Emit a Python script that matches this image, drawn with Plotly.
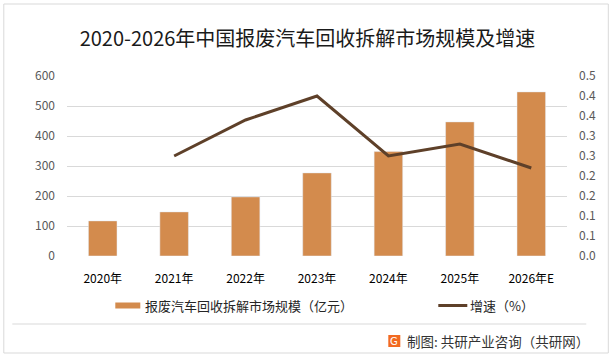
import plotly.graph_objects as go

years = ["2020年", "2021年", "2022年", "2023年", "2024年", "2025年", "2026年E"]
market_size = [117, 147, 197, 277, 348, 447, 547]
growth_years = ["2021年", "2022年", "2023年", "2024年", "2025年", "2026年E"]
growth = [0.25, 0.34, 0.40, 0.25, 0.28, 0.22]

left_ticks = [0, 100, 200, 300, 400, 500, 600]
right_ticks = [0, 0.05, 0.10, 0.15, 0.20, 0.25, 0.30, 0.35, 0.40, 0.45]
right_labels = ["0.0", "0.1", "0.1", "0.2", "0.2", "0.3", "0.3", "0.4", "0.4", "0.5"]

bar_name = "报废汽车回收拆解市场规模（亿元）"
line_name = "增速（%）"
title = "2020-2026年中国报废汽车回收拆解市场规模及增速"
source = "制图: 共研产业咨询（共研网）"

BAR_C = "#D38B4D"
LINE_C = "#5E4029"
FONT = "Noto Sans CJK SC"

W, H = 615, 357
L, R, T, B = 66.7, 566.7, 76, 256


def px(x):
    return (x - L) / (R - L)


def py(y):
    return (B - y) / (B - T)


fig = go.Figure()
fig.add_trace(go.Bar(x=years, y=market_size, name=bar_name, marker_color=BAR_C,
                     width=0.4, yaxis="y", showlegend=False))
fig.add_trace(go.Scatter(x=growth_years, y=growth, name=line_name, mode="lines",
                         line=dict(color=LINE_C, width=3), yaxis="y2", showlegend=False))

shapes = [
    # outer border
    dict(type="rect", xref="paper", yref="paper", x0=px(3.5), x1=px(608), y0=py(4), y1=py(353),
         line=dict(color="#d9d9d9", width=1), fillcolor="rgba(0,0,0,0)", layer="below"),
    # separator
    dict(type="line", xref="paper", yref="paper", x0=px(12), x1=px(586), y0=py(324), y1=py(324),
         line=dict(color="#d9d9d9", width=1)),
    # legend swatches
    dict(type="rect", xref="paper", yref="paper", x0=px(115), x1=px(140), y0=py(302.5), y1=py(308.5),
         line=dict(width=0), fillcolor=BAR_C),
    dict(type="line", xref="paper", yref="paper", x0=px(438), x1=px(467), y0=py(305.5), y1=py(305.5),
         line=dict(color=LINE_C, width=3)),
    # logo
    dict(type="rect", xref="paper", yref="paper", x0=px(388), x1=px(400), y0=py(335), y1=py(347),
         line=dict(width=0), fillcolor="#F26A21"),
]

annotations = [
    dict(text=bar_name, xref="paper", yref="paper", x=px(143), y=py(305.5), xanchor="left",
         yanchor="middle", showarrow=False, font=dict(family=FONT, size=13, color="#262626")),
    dict(text=line_name, xref="paper", yref="paper", x=px(468), y=py(305.5), xanchor="left",
         yanchor="middle", showarrow=False, font=dict(family=FONT, size=13, color="#262626")),
    dict(text="G", xref="paper", yref="paper", x=px(394), y=py(341), xanchor="center",
         yanchor="middle", showarrow=False, font=dict(family="DejaVu Sans", size=10, color="white")),
    dict(text=source, xref="paper", yref="paper", x=px(405), y=py(341), xanchor="left",
         yanchor="middle", showarrow=False, font=dict(family=FONT, size=13.5, color="#333333")),
]

fig.update_layout(
    width=W, height=H,
    margin=dict(l=L, r=W - R, t=T, b=H - B, pad=0),
    paper_bgcolor="white", plot_bgcolor="white",
    title=dict(text=title, x=0.5, xanchor="center", y=1 - 39 / H, yanchor="middle",
               font=dict(family=FONT, size=20, color="#1a1a1a")),
    font=dict(family=FONT),
    bargap=0.6,
    xaxis=dict(type="category", showgrid=False, showline=False, zeroline=False, ticks="",
               tickfont=dict(family=FONT, size=12, color="#000000"), ticklabelstandoff=14),
    yaxis=dict(range=[0, 600], tickvals=left_ticks, showgrid=True, gridcolor="#d9d9d9",
               gridwidth=1, zeroline=False, showline=False, ticks="",
               tickfont=dict(family=FONT, size=12, color="#595959"), ticklabelstandoff=11),
    yaxis2=dict(range=[0, 0.45], overlaying="y", side="right", tickvals=right_ticks,
                ticktext=right_labels, showgrid=False, zeroline=False, showline=False, ticks="",
                tickfont=dict(family=FONT, size=12, color="#595959"), ticklabelstandoff=11),
    shapes=shapes, annotations=annotations,
)

fig.write_html("out.html", config={"displayModeBar": False},
               post_script="document.body.style.margin='0';")
